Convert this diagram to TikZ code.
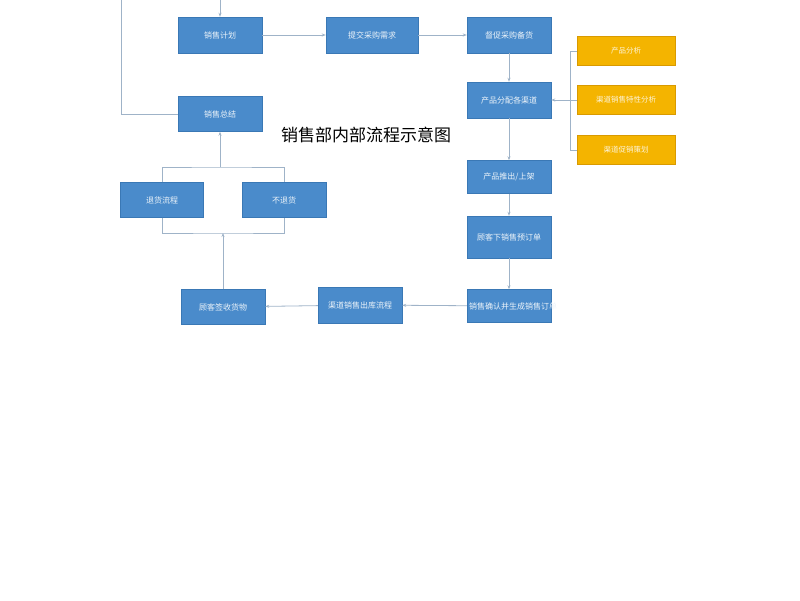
\documentclass[tikz,border=0pt]{standalone}
\usepackage{fontspec}
\setmainfont{Noto Sans CJK SC}
\usetikzlibrary{arrows.meta}
\definecolor{bx}{HTML}{4A8BCB}
\definecolor{bd}{HTML}{3A78B5}
\definecolor{ob}{HTML}{F4B400}
\definecolor{od}{HTML}{D99A00}
\definecolor{ln}{HTML}{9FB3C8}
\begin{document}
\begin{tikzpicture}[x=1pt,y=-1pt,
 b/.style={draw=bd,fill=bx,text=white!90!bx,minimum width=84pt,minimum height=36pt,font=\fontsize{8}{9}\selectfont,align=center,inner sep=1pt},
 o/.style={draw=od,fill=ob,text=white!85!ob,minimum width=98pt,minimum height=29pt,font=\fontsize{7.5}{9}\selectfont,inner sep=1pt},
 c/.style={draw=ln,line width=0.8pt},
 a/.style={c,-{Stealth[length=4pt,width=3pt]}}]
\useasboundingbox (0,0) rectangle (800,600);
\node[b] (plan) at (220,35) {销售计划};
\node[b,minimum width=92pt] (req) at (372,35) {提交采购需求};
\node[b] (urge) at (509,35) {督促采购备货};
\node[b] (dist) at (509,100) {产品分配各渠道};
\node[b,minimum height=33pt] (launch) at (509,177) {产品推出/上架};
\node[b,minimum height=42pt] (pre) at (509,237) {顾客下销售预订单};
\node[b,minimum height=33pt,text width=80pt] (conf) at (509,306) {销售确认并生成销售订单};
\node[b,text width=80pt] (out) at (360,305) {渠道销售出库流程};
\node[b,minimum height=35pt] (sign) at (223,307) {顾客签收货物};
\node[b,minimum width=83pt,minimum height=35pt] (ret) at (162,200) {退货流程};
\node[b,minimum height=35pt] (noret) at (284,200) {不退货};
\node[b,minimum height=35pt] (sum) at (220,114) {销售总结};
\node[o] (o1) at (626,51) {产品分析};
\node[o] (o2) at (626,100) {渠道销售特性分析};
\node[o] (o3) at (626,150) {渠道促销策划};
\node[font=\fontsize{17}{20}\selectfont] (title) at (366,135) {销售部内部流程示意图};
\coordinate (lt) at (121,0);
\coordinate (pt) at (220,0);
\coordinate (bt) at (570,100);
\coordinate (tp) at (220,167);
\coordinate (bm) at (223,233);
\draw[c] (sum.west) -| (lt);
\draw[a] (pt) -- (plan.north);
\draw[a] (plan) -- (req);
\draw[a] (req) -- (urge);
\draw[a] (urge) -- (dist);
\draw[a] (dist) -- (launch);
\draw[a] (launch) -- (pre);
\draw[a] (pre) -- (conf);
\draw[a] (conf) -- (out);
\draw[a] (out) -- (sign);
\draw[c] (o1.west) -- (570,51) -- (570,150) -- (o3.west);
\draw[c] (o2.west) -- (bt);
\draw[a] (bt) -- (dist.east);
\draw[c] (ret.north) |- (tp) -| (noret.north);
\draw[a] (tp) -- (sum.south);
\draw[c] (ret.south) |- (bm) -| (noret.south);
\draw[a] (sign.north) -- (bm);
\end{tikzpicture}
\end{document}
